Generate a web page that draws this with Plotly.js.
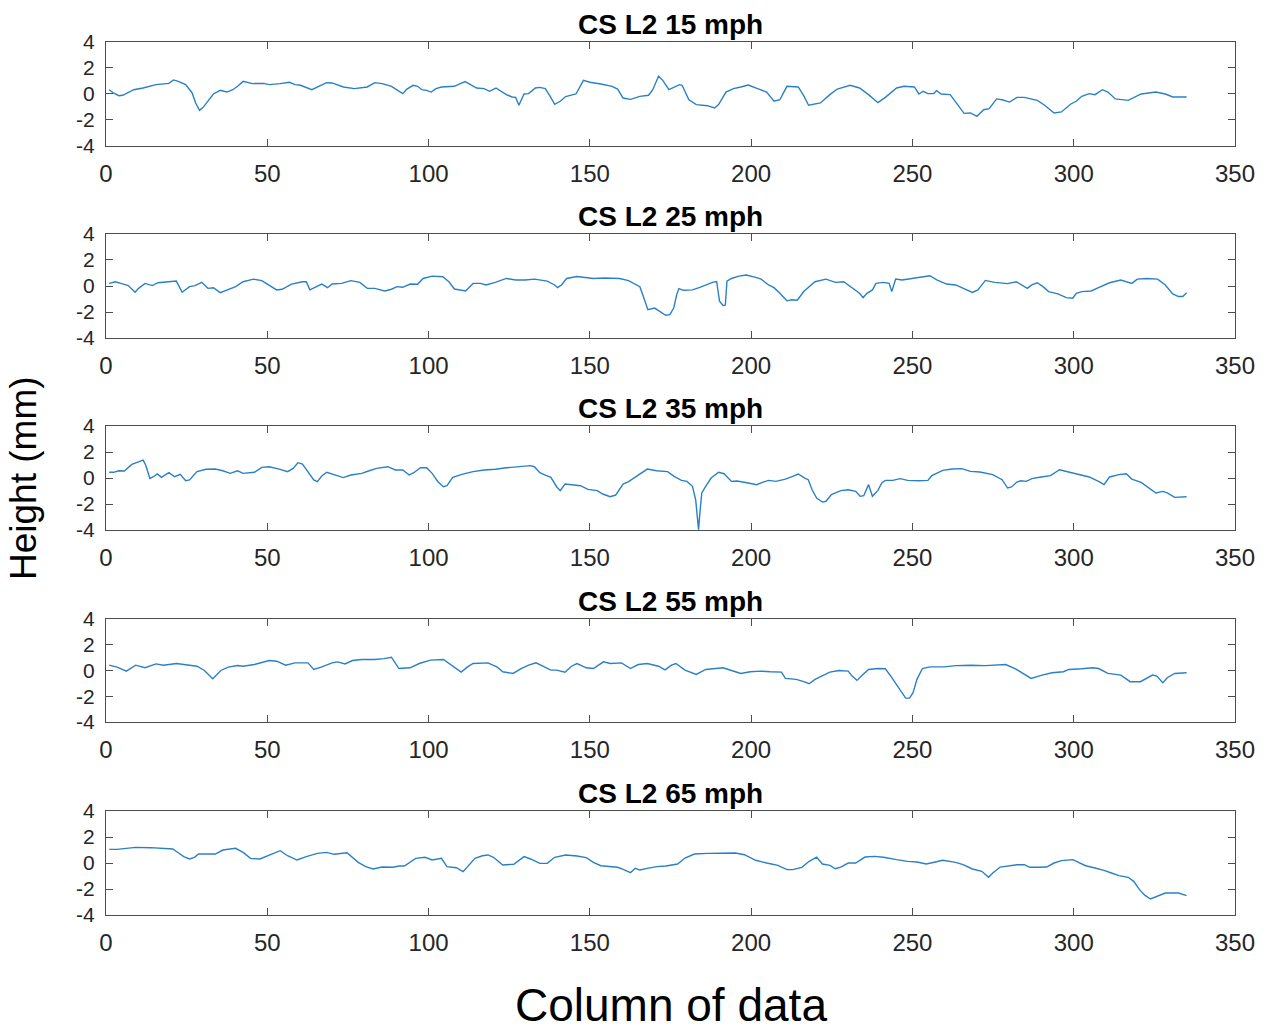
<!DOCTYPE html>
<html>
<head>
<meta charset="utf-8">
<script src="https://cdn.plot.ly/plotly-3.0.1.min.js"></script>
<style>
  html, body { margin: 0; padding: 0; background: #ffffff; }
  #chart { width: 1268px; height: 1033px; }
</style>
</head>
<body>
<div id="chart"></div>
<script>
// Surface height profiles (mm) per column, one series per test speed.
const panelTitles = ["CS L2 15 mph", "CS L2 25 mph", "CS L2 35 mph", "CS L2 55 mph", "CS L2 65 mph"];
const xTickVals = [0, 50, 100, 150, 200, 250, 300, 350];
const xTickText = ["0", "50", "100", "150", "200", "250", "300", "350"];
const yTickVals = [-4, -2, 0, 2, 4];
const yTickText = ["-4", "-2", "0", "2", "4"];

const x15 = [1, 2.3, 4, 5.2, 8.6, 11.5, 15.5, 18.4, 19.5, 20.9, 22.4, 24.7, 26.7, 27.8, 29, 30.1, 31.6, 33.3, 35.4, 37.5, 39.3, 40.8, 42.5, 45.4, 48.9, 50.6, 54, 56.9, 58.6, 60.3, 63.8, 66.1, 68.4, 70.1, 73.6, 77, 81, 83.3, 85.6, 88.5, 90.2, 92, 93.3, 95.2, 96.6, 97.9, 99.4, 100.8, 102.3, 104, 108, 111.3, 112.6, 114.9, 117.2, 118.9, 120.9, 122.4, 124.1, 125.9, 127, 128, 129.6, 131, 133.1, 134.5, 136.2, 137.7, 139.1, 140.8, 142.5, 144.8, 145.7, 148, 150, 153.4, 156.9, 158.6, 160.3, 162.6, 165.5, 168.2, 169.5, 171.3, 172.6, 174.5, 176.1, 177.8, 178.6, 180.7, 183, 186.4, 188.7, 189.9, 192.2, 194.5, 196.8, 199.1, 202, 204.8, 207.1, 208.9, 211.1, 214.6, 216.3, 217.8, 221.5, 224.4, 226.7, 230.7, 233.6, 236.4, 239.3, 241.6, 245.1, 247.4, 250.6, 252, 253.3, 254.8, 256.6, 257.5, 258.9, 261.7, 264, 266, 268, 270, 272.1, 273.8, 276.1, 277.8, 280.1, 282.4, 284.7, 288.7, 291, 293.9, 296.2, 299.1, 300.8, 302.5, 304.8, 306.6, 308.9, 310.6, 312.9, 316.9, 320.9, 325.5, 328.4, 330.7, 335];
const y15 = [0.33, 0.08, -0.13, -0.1, 0.33, 0.46, 0.72, 0.8, 0.82, 1.08, 0.97, 0.72, 0.08, -0.69, -1.26, -1.03, -0.56, 0, 0.28, 0.15, 0.33, 0.59, 0.97, 0.8, 0.82, 0.72, 0.8, 0.9, 0.72, 0.67, 0.33, 0.59, 0.87, 0.85, 0.54, 0.41, 0.54, 0.87, 0.8, 0.59, 0.33, 0.03, 0.38, 0.67, 0.59, 0.33, 0.28, 0.15, 0.41, 0.54, 0.59, 0.95, 0.77, 0.46, 0.41, 0.21, 0.46, 0.21, -0.05, -0.23, -0.26, -0.87, 0, 0.03, 0.46, 0.51, 0.41, -0.18, -0.79, -0.56, -0.2, -0.05, 0, 1.05, 0.9, 0.77, 0.59, 0.38, -0.31, -0.41, -0.18, -0.1, 0.33, 1.36, 1.05, 0.33, 0.54, 0.72, 0.67, -0.44, -0.82, -0.9, -1.08, -0.82, 0.15, 0.41, 0.54, 0.69, 0.41, 0.15, -0.56, -0.44, 0.59, 0.54, -0.13, -0.87, -0.69, -0.05, 0.38, 0.67, 0.46, -0.05, -0.67, -0.26, 0.46, 0.59, 0.54, 0, 0.21, 0.03, 0.03, 0.26, 0, -0.05, -0.82, -1.49, -1.46, -1.72, -1.21, -1.13, -0.38, -0.44, -0.62, -0.26, -0.26, -0.49, -0.87, -1.46, -1.38, -0.77, -0.56, -0.18, 0.03, -0.05, 0.33, 0.15, -0.38, -0.49, 0, 0.15, 0, -0.23, -0.23];

const x25 = [1, 2.9, 4.6, 6.9, 9, 10.1, 12.1, 14.4, 16.1, 19, 21.8, 23.6, 25.9, 27.6, 29.7, 31.6, 33.3, 35.4, 37.9, 40.2, 42.5, 45.7, 48.3, 50.6, 52.9, 54.6, 57.5, 60.9, 62.1, 63.2, 65.5, 66.9, 68.7, 70.1, 73, 75.9, 78.7, 81, 83.3, 86.4, 88.5, 90.2, 92, 94.3, 96.6, 98.3, 101.1, 104.4, 106.3, 108, 111.5, 113.8, 116.1, 117.8, 120.7, 124.1, 127, 129.9, 132.8, 136.8, 139.1, 140, 141.2, 142.8, 146, 148.9, 151.1, 154.6, 159.2, 162, 165.5, 166.4, 168, 170.1, 171.8, 173.5, 174.8, 176, 176.9, 177.6, 179, 181.8, 184.1, 186.4, 188.2, 189.3, 190.2, 191.3, 192, 192.5, 193.9, 196.2, 198.5, 201.4, 203.1, 205.4, 207.1, 208.9, 211.1, 212.6, 214.3, 216.3, 218, 219.8, 223.2, 226.1, 228.7, 231.3, 233.6, 234.7, 235.9, 237.6, 238.7, 241, 242.8, 243.6, 244.8, 246.8, 249.7, 253.1, 255.4, 257.7, 260.6, 263.4, 266.3, 268.6, 270.3, 272.6, 275.5, 279.5, 282.2, 284.1, 285.6, 287, 288.7, 290.5, 292.2, 295.1, 297.7, 299.7, 300.8, 302.5, 305.4, 307.7, 311.1, 314.6, 316.5, 318, 319.7, 322.6, 326, 328.4, 330.7, 332.5, 333.8, 335];
const y25 = [0.2, 0.33, 0.2, 0.03, -0.48, -0.18, 0.2, 0.03, 0.25, 0.33, 0.38, -0.48, -0.05, 0.03, 0.28, -0.18, -0.13, -0.51, -0.3, -0.05, 0.33, 0.53, 0.41, 0.03, -0.3, -0.25, 0.15, 0.33, 0.33, -0.3, -0.05, 0.15, -0.13, 0.15, 0.2, 0.41, 0.28, -0.18, -0.18, -0.38, -0.25, -0.05, -0.1, 0.15, 0.13, 0.58, 0.76, 0.71, 0.33, -0.23, -0.38, 0.2, 0.2, 0.08, 0.28, 0.58, 0.46, 0.46, 0.53, 0.38, 0.08, -0.13, 0.08, 0.58, 0.73, 0.63, 0.58, 0.61, 0.58, 0.41, -0.05, -0.68, -1.82, -1.7, -1.95, -2.25, -2.2, -1.7, -0.68, -0.2, -0.33, -0.3, -0.1, 0.15, 0.3, 0.35, -1.17, -1.5, -1.47, 0.38, 0.58, 0.76, 0.84, 0.66, 0.53, 0.08, -0.13, -0.56, -1.14, -1.06, -1.09, -0.43, -0.05, 0.33, 0.53, 0.28, 0.33, -0.13, -0.56, -0.89, -0.56, -0.3, 0.2, 0.28, 0.2, -0.43, 0.53, 0.46, 0.58, 0.71, 0.79, 0.46, 0.15, 0.08, -0.23, -0.5, -0.3, 0.43, 0.28, 0.18, 0.33, 0.08, -0.18, 0.08, 0.25, -0.05, -0.43, -0.61, -0.89, -0.94, -0.56, -0.43, -0.38, -0.13, 0.25, 0.46, 0.33, 0.2, 0.53, 0.58, 0.53, 0.08, -0.61, -0.81, -0.81, -0.51];

const x35 = [1, 2.3, 4, 5.7, 8, 10.1, 11.5, 12.3, 13.6, 14.7, 15.9, 17.2, 19.5, 21.3, 23, 24.7, 25.9, 28.2, 31, 33.9, 36.2, 38.5, 40.8, 42.5, 46, 48.3, 50.6, 54, 56.3, 58, 59.5, 60.9, 62.6, 64.4, 65.5, 66.9, 68.4, 71.3, 73.6, 75.9, 79.3, 81.6, 83.9, 87.4, 89.7, 92, 94, 95.4, 97.5, 99.4, 101.1, 102.9, 104.6, 105.7, 107.5, 110.3, 113.8, 117.2, 120.7, 124.1, 127.6, 131.6, 132.8, 134.5, 136.2, 137.9, 139.7, 140.8, 142.3, 144.8, 147.1, 149.4, 152.3, 154, 156.3, 158, 160.3, 162, 164.4, 167.8, 170.7, 174.1, 176.1, 178.4, 180.1, 181.8, 182.8, 183.3, 183.7, 184.1, 184.7, 185.9, 187.6, 189.9, 191.6, 193.9, 195.6, 199.1, 201.7, 203.7, 205.4, 207.7, 210.6, 212.9, 214.6, 216.6, 217.7, 218.9, 220.3, 222.1, 223.2, 224.9, 227.8, 230.1, 232.4, 233.8, 234.9, 236.4, 237.6, 239.3, 240.5, 241.6, 243.9, 246.2, 248.5, 252, 254.8, 256, 259.4, 262.3, 265.2, 268, 270.9, 274.9, 277.8, 279.5, 280.7, 282.4, 283.6, 285.3, 287, 289.9, 292.8, 295.6, 297.9, 300.8, 304.8, 307.7, 309.4, 311.1, 314, 316.3, 318, 320.9, 323.2, 325.5, 327.6, 329, 331.3, 333, 335];
const y35 = [0.44, 0.44, 0.56, 0.54, 1.05, 1.26, 1.38, 1, -0.03, 0.1, 0.31, 0.05, 0.41, 0.1, 0.28, -0.21, -0.15, 0.49, 0.67, 0.69, 0.56, 0.36, 0.56, 0.36, 0.44, 0.82, 0.87, 0.67, 0.49, 0.74, 1.18, 1.08, 0.49, -0.15, -0.28, 0.15, 0.44, 0.18, 0.03, 0.23, 0.36, 0.56, 0.74, 0.87, 0.62, 0.62, 0.23, 0.41, 0.79, 0.79, 0.36, -0.28, -0.67, -0.59, 0.05, 0.28, 0.49, 0.62, 0.67, 0.79, 0.87, 0.95, 0.87, 0.41, 0.23, 0.05, -0.67, -0.97, -0.46, -0.54, -0.59, -0.87, -0.97, -1.23, -1.44, -1.31, -0.46, -0.28, 0.1, 0.69, 0.56, 0.49, 0.13, -0.18, -0.26, -0.64, -1.67, -3.2, -3.97, -2.7, -1.15, -0.64, 0, 0.44, 0.33, -0.26, -0.23, -0.38, -0.51, -0.31, -0.18, -0.26, -0.08, 0.13, 0.31, 0, -0.13, -0.9, -1.54, -1.85, -1.79, -1.28, -0.97, -0.9, -1.03, -1.41, -1.36, -0.51, -1.41, -0.95, -0.38, -0.18, -0.18, -0.05, -0.18, -0.21, -0.18, 0.18, 0.59, 0.69, 0.72, 0.51, 0.46, 0.26, -0.13, -0.77, -0.69, -0.31, -0.21, -0.26, -0.05, 0.08, 0.18, 0.64, 0.51, 0.33, 0.08, -0.26, -0.51, 0.08, 0.26, 0.33, -0.08, -0.33, -0.77, -1.15, -1.03, -1.15, -1.49, -1.49, -1.44];

const x55 = [1, 3.4, 6.3, 9.2, 12.1, 15.5, 17.8, 21.8, 25.9, 28.2, 30.5, 33.1, 35.6, 37.9, 40.8, 42.5, 46, 48.3, 50.6, 52.9, 55.7, 58.6, 62.6, 64.4, 66.7, 70.1, 71.8, 74.1, 76.4, 79.3, 83.3, 86.2, 88.5, 90.8, 94.3, 97.1, 100.6, 104.6, 106.7, 108.7, 110.1, 112.1, 113.8, 118.4, 121.3, 123, 126.2, 128.7, 131, 133.3, 135.6, 137.9, 139.7, 142.3, 144.3, 146, 148.9, 151.1, 154.2, 156.3, 159.8, 162.6, 165, 167.8, 171.3, 173.3, 175.3, 176.7, 179.5, 183, 185.9, 188.7, 191.3, 193.9, 196.8, 199.7, 203.1, 206, 209.4, 210.6, 214, 216.3, 218, 219.8, 222.1, 224.4, 227.2, 230.1, 231.3, 232.8, 234.5, 236.4, 239.3, 241.6, 243.3, 245.6, 247.9, 249.1, 250.2, 251.4, 253.1, 255.4, 260, 263.4, 268, 272.6, 278.9, 281.8, 284.7, 286.8, 289.9, 293.3, 296.8, 298.5, 302.5, 306, 307.7, 310.6, 314.6, 317.5, 320.7, 324.4, 325.8, 327.6, 329, 331.3, 335];
const y55 = [0.41, 0.26, -0.05, 0.41, 0.21, 0.51, 0.41, 0.54, 0.41, 0.33, 0, -0.64, 0, 0.26, 0.38, 0.33, 0.46, 0.59, 0.77, 0.72, 0.41, 0.59, 0.59, 0.08, 0.26, 0.59, 0.67, 0.51, 0.77, 0.85, 0.85, 0.92, 1.03, 0.15, 0.21, 0.54, 0.8, 0.85, 0.46, 0.08, -0.13, 0.28, 0.54, 0.59, 0.26, -0.1, -0.23, 0.15, 0.41, 0.59, 0.33, 0.03, 0.03, -0.13, 0.33, 0.54, 0.21, 0.15, 0.67, 0.54, 0.59, 0.15, 0.46, 0.54, 0.33, 0.05, 0.41, 0.54, 0.03, -0.31, 0.08, 0.13, 0.21, 0, -0.23, -0.1, -0.05, -0.1, -0.13, -0.62, -0.69, -0.87, -1.03, -0.69, -0.44, -0.13, 0, -0.05, -0.44, -0.77, -0.36, 0.08, 0.15, 0.13, -0.44, -1.33, -2.15, -2.15, -1.72, -0.69, 0.15, 0.28, 0.28, 0.38, 0.41, 0.38, 0.46, 0.15, -0.26, -0.62, -0.38, -0.18, -0.1, 0.08, 0.13, 0.21, 0.15, -0.23, -0.36, -0.87, -0.87, -0.36, -0.44, -0.95, -0.56, -0.23, -0.18];

const x65 = [1, 3.4, 6.3, 9.2, 13.8, 17.8, 20.7, 22.4, 24.1, 25.9, 27.4, 28.7, 31, 33.9, 36.2, 40.2, 42.5, 44.8, 47.7, 50.6, 54, 56.3, 59.2, 62.1, 65.5, 68.4, 70.7, 74.7, 76.4, 78.2, 80.5, 82.8, 85.6, 89, 90.8, 92.5, 96, 98.9, 101.1, 104, 105.7, 108.6, 110.7, 112.6, 114.4, 116.7, 118.4, 120.1, 123, 126.4, 128.2, 129.6, 131.6, 134.5, 136.8, 139.1, 142.5, 146, 148.9, 151.1, 153.4, 156.3, 158.6, 160.3, 162.6, 164.1, 165.5, 167.8, 170.7, 173.6, 177.2, 179.5, 182.4, 186.4, 191, 195.1, 197.9, 201.4, 204.8, 208.3, 211.1, 212.9, 215.7, 218, 220.3, 222.1, 224.4, 226.1, 227.8, 230.1, 232.4, 235.3, 238.2, 241, 245.1, 248.5, 251.4, 254.3, 257.1, 259.4, 263.4, 265.7, 268.6, 271.5, 273.6, 274.9, 277.2, 279.5, 282.4, 284.7, 286.4, 288.7, 291.6, 293.9, 296.2, 299.7, 301.4, 303.7, 306.6, 309.4, 311.7, 314, 316.9, 318.6, 320.4, 322.1, 323.8, 326.1, 328.4, 330.7, 332.5, 335];
const y65 = [1.05, 1.05, 1.13, 1.2, 1.18, 1.13, 1.08, 0.79, 0.49, 0.31, 0.44, 0.69, 0.69, 0.69, 1, 1.13, 0.82, 0.36, 0.31, 0.62, 0.95, 0.56, 0.23, 0.49, 0.74, 0.82, 0.67, 0.79, 0.41, 0.05, -0.28, -0.46, -0.31, -0.33, -0.23, -0.23, 0.36, 0.44, 0.23, 0.36, -0.28, -0.36, -0.67, -0.15, 0.36, 0.56, 0.62, 0.44, -0.15, -0.1, 0.23, 0.49, 0.31, -0.03, -0.03, 0.44, 0.62, 0.54, 0.41, 0.05, -0.21, -0.28, -0.33, -0.49, -0.74, -0.41, -0.54, -0.41, -0.28, -0.23, -0.08, 0.38, 0.69, 0.74, 0.77, 0.77, 0.64, 0.21, 0, -0.18, -0.51, -0.51, -0.33, 0.13, 0.46, -0.08, -0.18, -0.44, -0.31, 0, 0, 0.46, 0.51, 0.44, 0.26, 0.13, 0.08, -0.08, 0.08, 0.21, 0.05, -0.13, -0.46, -0.64, -1.1, -0.77, -0.31, -0.21, -0.13, -0.13, -0.33, -0.33, -0.31, 0, 0.18, 0.26, 0.08, -0.21, -0.38, -0.56, -0.77, -0.97, -1.1, -1.41, -2.05, -2.49, -2.77, -2.56, -2.31, -2.31, -2.31, -2.51];

const seriesX = [x15, x25, x35, x55, x65];
const seriesY = [y15, y25, y35, y55, y65];

// Vertical placement of the five stacked panels (paper fractions, top to bottom)
const domains = [[0.8809, 1.0], [0.6609, 0.7801], [0.4410, 0.5601], [0.2211, 0.3391], [0.0, 0.1191]];

const FONT = "Liberation Sans, Arial, Helvetica, sans-serif";
const INK = "#262626";
const FRAME = "#4d4d4d";
const LINE_BLUE = "#2a80c6";

const traces = [];
const layout = {
  width: 1268,
  height: 1033,
  margin: { l: 106, r: 33, t: 42, b: 118, pad: 0 },
  paper_bgcolor: "#ffffff",
  plot_bgcolor: "#ffffff",
  showlegend: false,
  font: { family: FONT, color: INK },
  annotations: []
};

for (let i = 0; i < 5; i++) {
  const n = i === 0 ? "" : String(i + 1);
  traces.push({
    x: seriesX[i],
    y: seriesY[i],
    xaxis: "x" + n,
    yaxis: "y" + n,
    type: "scatter",
    mode: "lines",
    line: { color: LINE_BLUE, width: 1.4 },
    hoverinfo: "skip"
  });
  layout["xaxis" + n] = {
    domain: [0, 1],
    anchor: "y" + n,
    range: [0, 350],
    tickmode: "array",
    tickvals: xTickVals,
    ticktext: xTickText,
    ticks: "inside",
    ticklen: 7,
    tickwidth: 1,
    tickcolor: FRAME,
    showline: true,
    linecolor: FRAME,
    linewidth: 1,
    mirror: "ticks",
    showgrid: false,
    zeroline: false,
    ticklabelstandoff: 6,
    tickfont: { family: FONT, size: 24, color: INK }
  };
  layout["yaxis" + n] = {
    domain: domains[i],
    anchor: "x" + n,
    range: [-4, 4],
    tickmode: "array",
    tickvals: yTickVals,
    ticktext: yTickText,
    ticks: "inside",
    ticklen: 7,
    tickwidth: 1,
    tickcolor: FRAME,
    showline: true,
    linecolor: FRAME,
    linewidth: 1,
    mirror: "ticks",
    showgrid: false,
    zeroline: false,
    ticklabelstandoff: 6,
    tickfont: { family: FONT, size: 21, color: INK }
  };
  layout.annotations.push({
    text: "<b>" + panelTitles[i] + "</b>",
    xref: "paper", yref: "paper",
    x: 0.5, y: domains[i][1],
    xanchor: "center", yanchor: "bottom",
    yshift: 0,
    showarrow: false,
    font: { family: FONT, size: 28, color: "#000000" }
  });
}

layout.annotations.push({
  text: "Column of data",
  xref: "paper", yref: "paper",
  x: 0.5, y: -0.1030,
  xanchor: "center", yanchor: "middle",
  showarrow: false,
  font: { family: FONT, size: 46, color: "#000000" }
});
layout.annotations.push({
  text: "Height (mm)",
  xref: "paper", yref: "paper",
  x: 0, y: 0.5006,
  xanchor: "center", yanchor: "middle",
  xshift: -82,
  textangle: -90,
  showarrow: false,
  font: { family: FONT, size: 37, color: "#000000" }
});

Plotly.newPlot("chart", traces, layout, { staticPlot: true, displayModeBar: false });
</script>
</body>
</html>
